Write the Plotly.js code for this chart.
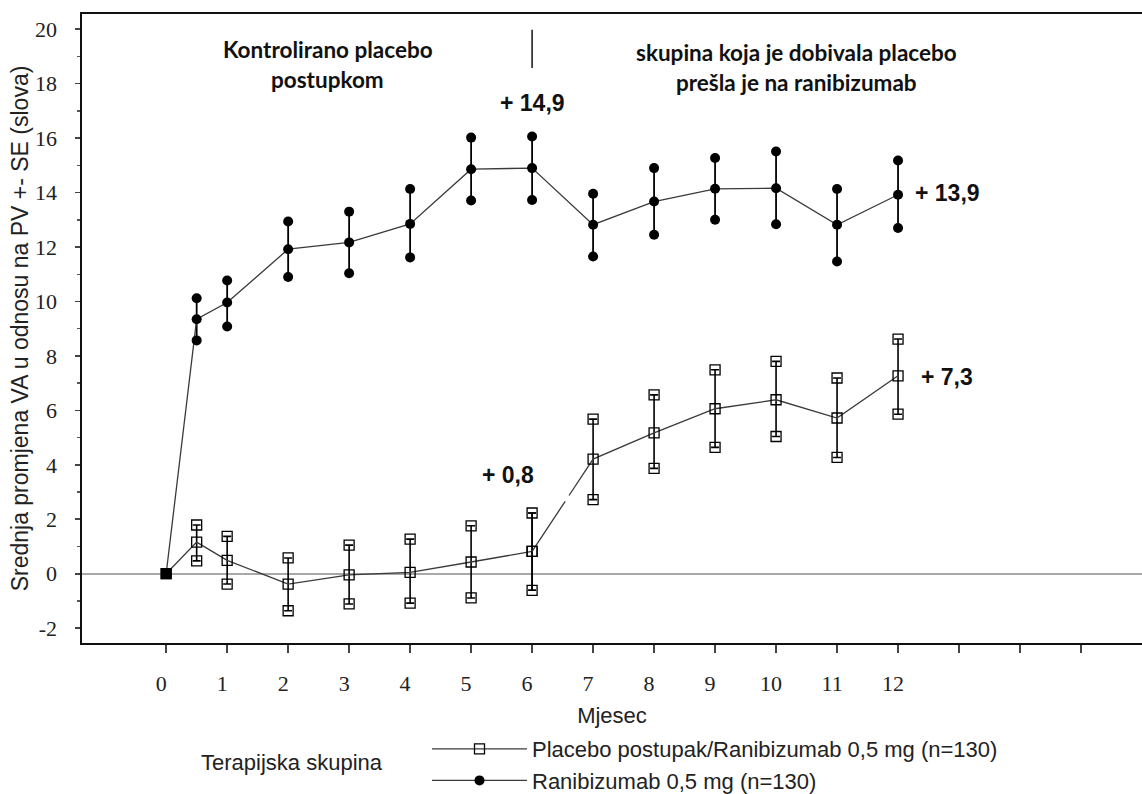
<!DOCTYPE html>
<html>
<head>
<meta charset="utf-8">
<script src="https://cdn.plot.ly/plotly-3.0.1.min.js"></script>
<style>html,body{margin:0;padding:0;background:#fff;}#chart{width:1142px;height:794px;}</style>
</head>
<body>
<div id="chart"></div>
<script>
// ---- data ----
const months = [0, 0.5, 1, 2, 3, 4, 5, 6, 7, 8, 9, 10, 11, 12];
const ranibMean  = [0, 9.35, 9.96, 11.92, 12.17, 12.85, 14.86, 14.90, 12.82, 13.67, 14.14, 14.16, 12.82, 13.92];
const ranibUpper = [null, 10.12, 10.77, 12.94, 13.30, 14.13, 16.02, 16.06, 13.96, 14.90, 15.27, 15.51, 14.13, 15.18];
const ranibLower = [null, 8.57, 9.08, 10.90, 11.04, 11.62, 13.71, 13.73, 11.65, 12.45, 13.00, 12.84, 11.47, 12.70];
const placMean  = [0, 1.16, 0.49, -0.38, -0.04, 0.05, 0.43, 0.82, 4.21, 5.17, 6.06, 6.39, 5.72, 7.27];
const placUpper = [null, 1.79, 1.37, 0.58, 1.05, 1.27, 1.76, 2.23, 5.68, 6.57, 7.49, 7.80, 7.19, 8.62];
const placLower = [null, 0.47, -0.38, -1.36, -1.11, -1.08, -0.89, -0.61, 2.72, 3.87, 4.64, 5.04, 4.27, 5.86];

const seriesNames = ['Placebo postupak/Ranibizumab 0,5 mg (n=130)', 'Ranibizumab 0,5 mg (n=130)'];
const xTickVals = [0, 1, 2, 3, 4, 5, 6, 7, 8, 9, 10, 11, 12, 13, 14, 15];
const xTickText = ['0', '1', '2', '3', '4', '5', '6', '7', '8', '9', '10', '11', '12', '', '', ''];
const yTickVals = [-2, 0, 2, 4, 6, 8, 10, 12, 14, 16, 18, 20];
const yTickText = ['-2', '0', '2', '4', '6', '8', '10', '12', '14', '16', '18', '20'];
const switchMonth = 6;

// ---- helpers ----
const plus  = (up, m) => up.map((u, i) => u == null ? 0 : u - m[i]);
const minus = (lo, m) => lo.map((l, i) => l == null ? 0 : m[i] - l);

const lineCol = '#3a3a3a';
const sans = 'Liberation Sans, Arial, sans-serif';
const serif = 'Liberation Serif, Times New Roman, serif';
const boldHead = 'Lato, Open Sans, sans-serif';

const iSwitch = months.indexOf(switchMonth);

const traces = [
  {
    x: months, y: ranibMean, type: 'scatter', mode: 'lines+markers',
    name: seriesNames[1], legendrank: 2,
    line: {color: lineCol, width: 1.3},
    marker: {symbol: 'circle', size: 10, color: '#000'},
    error_y: {type: 'data', symmetric: false, array: plus(ranibUpper, ranibMean),
              arrayminus: minus(ranibLower, ranibMean), color: '#000', thickness: 1.8, width: 0}
  },
  {
    x: months, y: ranibUpper, type: 'scatter', mode: 'markers', showlegend: false, hoverinfo: 'skip',
    marker: {symbol: 'circle', size: 10, color: '#000'}
  },
  {
    x: months, y: ranibLower, type: 'scatter', mode: 'markers', showlegend: false, hoverinfo: 'skip',
    marker: {symbol: 'circle', size: 10, color: '#000'}
  },
  {
    x: months.slice(0, iSwitch + 1), y: placMean.slice(0, iSwitch + 1), type: 'scatter', mode: 'lines+markers',
    name: seriesNames[0], legendrank: 1,
    line: {color: lineCol, width: 1.3},
    marker: {symbol: 'square-open', size: 10, color: '#000', line: {width: 1.3}},
    error_y: {type: 'data', symmetric: false, array: plus(placUpper, placMean).slice(0, iSwitch + 1),
              arrayminus: minus(placLower, placMean).slice(0, iSwitch + 1), color: '#000', thickness: 1.6, width: 4}
  },
  {
    x: months.slice(iSwitch), y: placMean.slice(iSwitch), type: 'scatter', mode: 'lines+markers',
    showlegend: false, hoverinfo: 'skip',
    line: {color: lineCol, width: 1.3, dash: '60px,7px,4000px'},
    marker: {symbol: 'square-open', size: 10, color: '#000', line: {width: 1.3}},
    error_y: {type: 'data', symmetric: false, array: plus(placUpper, placMean).slice(iSwitch),
              arrayminus: minus(placLower, placMean).slice(iSwitch), color: '#000', thickness: 1.6, width: 4}
  },
  {
    x: months, y: placUpper, type: 'scatter', mode: 'markers', showlegend: false, hoverinfo: 'skip',
    marker: {symbol: 'square-open', size: 10, color: '#000', line: {width: 1.3}}
  },
  {
    x: months, y: placLower, type: 'scatter', mode: 'markers', showlegend: false, hoverinfo: 'skip',
    marker: {symbol: 'square-open', size: 10, color: '#000', line: {width: 1.3}}
  },
  {
    x: [months[0]], y: [placMean[0]], type: 'scatter', mode: 'markers', showlegend: false, hoverinfo: 'skip',
    marker: {symbol: 'square', size: 11, color: '#000'}
  }
];

const ann = (text, x, y, opts) => Object.assign({
  text: text, x: x, y: y, xref: 'x', yref: 'y', showarrow: false,
  xanchor: 'center', yanchor: 'middle'
}, opts || {});

const headFont = {family: boldHead, size: 22.5, color: '#111', weight: 'bold'};
const valFont = {family: sans, size: 23, color: '#111', weight: 'bold'};

const layout = {
  width: 1142, height: 794,
  margin: {l: 82, r: 0, t: 14, b: 151, autoexpand: false},
  paper_bgcolor: '#fff', plot_bgcolor: '#fff',
  showlegend: true,
  xaxis: {
    range: [-1.38, 16], tickmode: 'array', tickvals: xTickVals, ticktext: xTickText,
    showgrid: false, zeroline: false,
    showline: true, linecolor: '#111', linewidth: 1.6, mirror: true,
    ticks: 'outside', ticklen: 8, tickwidth: 1.6, tickcolor: '#444',
    ticklabelstandoff: 12, ticklabelshift: -5,
    tickfont: {family: serif, size: 22, color: '#222'},
    title: {text: 'Mjesec', font: {family: sans, size: 22, color: '#222'}, standoff: 12}
  },
  yaxis: {
    range: [-2.545, 20.56], tickmode: 'array', tickvals: yTickVals, ticktext: yTickText,
    showgrid: false,
    zeroline: true, zerolinecolor: '#a8a8a8', zerolinewidth: 2,
    showline: true, linecolor: '#111', linewidth: 1.6,
    ticks: 'outside', ticklen: 5, tickwidth: 1.6, tickcolor: '#444',
    ticklabelstandoff: 14,
    minor: {tickmode: 'linear', tick0: -1, dtick: 2, ticks: 'outside', ticklen: 3, tickwidth: 1.4, tickcolor: '#555'},
    tickfont: {family: serif, size: 22, color: '#222'},
    title: {text: 'Srednja promjena VA u odnosu na PV +- SE (slova)', font: {family: sans, size: 23, color: '#222'}, standoff: 0}
  },
  legend: {
    x: (427 - 82) / 1060, xanchor: 'left', y: (643 - 728) / 629, yanchor: 'top',
    font: {family: sans, size: 22, color: '#222'},
    itemwidth: 95, bgcolor: 'rgba(0,0,0,0)', tracegroupgap: 0
  },
  shapes: [
    {type: 'line', xref: 'x', yref: 'y', x0: switchMonth, x1: switchMonth, y0: 19.98, y1: 18.58,
     line: {color: '#111', width: 1.5}}
  ],
  annotations: [
    ann('Kontrolirano placebo', 2.65, 19.24, {font: headFont}),
    ann('postupkom', 2.65, 18.14, {font: headFont}),
    ann('skupina koja je dobivala placebo', 10.33, 19.13, {font: headFont}),
    ann('prešla je na ranibizumab', 10.33, 18.03, {font: headFont}),
    ann('+ 14,9', 6.0, 17.3, {font: valFont}),
    ann('+ 13,9', 12.81, 14.0, {font: valFont}),
    ann('+ 7,3', 12.81, 7.23, {font: valFont}),
    ann('+ 0,8', 5.61, 3.64, {font: valFont}),
    {text: 'Terapijska skupina', xref: 'paper', yref: 'paper', x: (199 - 82) / 1060, y: (643 - 762) / 629,
     xanchor: 'left', yanchor: 'middle', showarrow: false, font: {family: sans, size: 22, color: '#222'}}
  ]
};

Plotly.newPlot('chart', traces, layout, {displayModeBar: false, staticPlot: true});
</script>
</body>
</html>
